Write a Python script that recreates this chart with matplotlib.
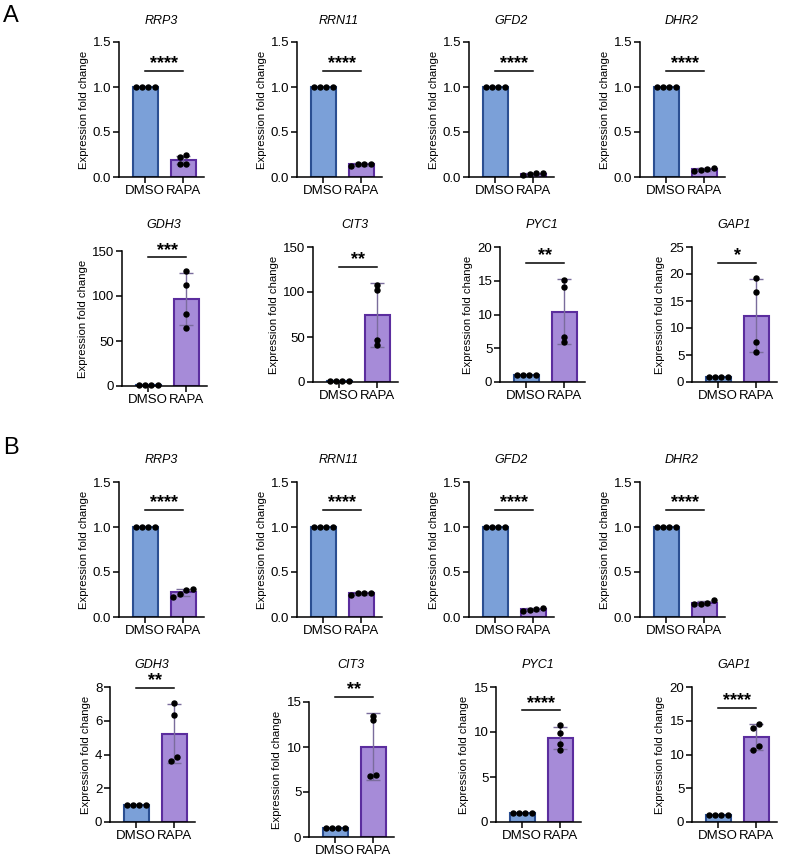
import numpy as np
import matplotlib
matplotlib.use("Agg")
import matplotlib.pyplot as plt

plt.rcParams['font.family'] = ['Liberation Sans', 'DejaVu Sans']

groups = ["DMSO", "RAPA"]

# panel A, top row (1.5 scale)
a_genes_top = ["RRP3", "RRN11", "GFD2", "DHR2"]
a_rapa_top = [
    [0.15, 0.22, 0.24, 0.15],
    [0.12, 0.15, 0.15, 0.15],
    [0.02, 0.05, 0.03, 0.04],
    [0.07, 0.10, 0.08, 0.09],
]
a_sig_top = ["****", "****", "****", "****"]

# panel A, bottom row
a_genes_bot = ["GDH3", "CIT3", "PYC1", "GAP1"]
a_rapa_bot = [
    [128, 112, 80, 65],
    [108, 102, 47, 41],
    [15.1, 14.1, 6.6, 5.9],
    [19.3, 16.7, 7.4, 5.6],
]
a_sig_bot = ["***", "**", "**", "*"]
a_ymax_bot = [150, 150, 20, 25]
a_yticks_bot = [[0, 50, 100, 150], [0, 50, 100, 150], [0, 5, 10, 15, 20], [0, 5, 10, 15, 20, 25]]

# panel B, top row
b_genes_top = ["RRP3", "RRN11", "GFD2", "DHR2"]
b_rapa_top = [
    [0.22, 0.30, 0.31, 0.26],
    [0.24, 0.27, 0.27, 0.27],
    [0.07, 0.10, 0.08, 0.09],
    [0.19, 0.14, 0.15, 0.16],
]
b_sig_top = ["****", "****", "****", "****"]

# panel B, bottom row
b_genes_bot = ["GDH3", "CIT3", "PYC1", "GAP1"]
b_rapa_bot = [
    [7.06, 6.36, 3.85, 3.6],
    [13.5, 12.97, 6.9, 6.8],
    [10.8, 9.9, 8.7, 8.0],
    [14.57, 13.98, 11.2, 10.6],
]
b_sig_bot = ["**", "**", "****", "****"]
b_ymax_bot = [8, 15, 15, 20]
b_yticks_bot = [[0, 2, 4, 6, 8], [0, 5, 10, 15], [0, 5, 10, 15], [0, 5, 10, 15, 20]]

dmso_vals = [1.0, 1.0, 1.0, 1.0]

W, H = 787, 856
fig = plt.figure(figsize=(W / 100, H / 100), dpi=100)

blue_fill, blue_edge = "#7ba0d8", "#2b4f92"
purp_fill, purp_edge = "#a68bd8", "#5b2d9e"


def spread(vals, px_per_unit, step=0.17, thresh=4.6):
    vals = np.asarray(vals, float)
    order = np.argsort(vals)
    xs = np.zeros(len(vals))
    grp = [order[0]]
    groups_ = []
    for i in order[1:]:
        if (vals[i] - vals[grp[-1]]) * px_per_unit < thresh:
            grp.append(i)
        else:
            groups_.append(grp)
            grp = [i]
    groups_.append(grp)
    for g in groups_:
        n = len(g)
        for k, idx in enumerate(g):
            xs[idx] = (k - (n - 1) / 2) * step
    return xs


def panel(x0, ytop, ybot, gene, rapa, sig, ymax, yticks, fmt, sig_y, title_y):
    ax = fig.add_axes([x0 / W, 1 - ybot / H, 85 / W, (ybot - ytop) / H])
    px_unit = (ybot - ytop) / ymax
    data = [dmso_vals, rapa]
    fills = [blue_fill, purp_fill]
    edges = [blue_edge, purp_edge]
    for i, vals in enumerate(data):
        m = np.mean(vals)
        sd = np.std(vals, ddof=1)
        ax.bar(i, m, width=0.66, color=fills[i], edgecolor=edges[i], linewidth=1.5, zorder=2)
        if sd > 0:
            ax.errorbar(i, m, yerr=sd, color="#7a6c9c", elinewidth=1.0, capsize=5,
                        capthick=1.0, zorder=3)
        xs = spread(vals, px_unit)
        ax.plot(i + xs, vals, "o", color="black", ms=3.6, zorder=4, clip_on=False)
    ax.set_xlim(-0.69, 1.55)
    ax.set_ylim(0, ymax)
    ax.set_yticks(yticks)
    ax.set_yticklabels([fmt.format(t) for t in yticks], fontsize=9.5)
    ax.set_xticks([0, 1])
    ax.set_xticklabels(groups, fontsize=9.5)
    for s in ["top", "right"]:
        ax.spines[s].set_visible(False)
    for s in ["left", "bottom"]:
        ax.spines[s].set_linewidth(1.1)
    ax.tick_params(width=1.1, length=4, pad=1.5)
    ax.set_ylabel("Expression fold change", fontsize=8.2, labelpad=3)
    ax.plot([0, 1], [sig_y, sig_y], color="black", lw=1.1, clip_on=False)
    ax.annotate(sig, (0.5, sig_y), xytext=(0, -1), textcoords="offset points",
                ha="center", va="bottom", fontsize=13, fontweight="bold",
                annotation_clip=False)
    fig.text((x0 + 42) / W, 1 - title_y / H, gene, ha="center", va="center",
             fontsize=9, style="italic")
    return ax


top_x = [119, 297, 469, 640]

for k in range(4):
    panel(top_x[k], 42, 177, a_genes_top[k], a_rapa_top[k], a_sig_top[k], 1.5,
          [0, 0.5, 1.0, 1.5], "{:.1f}", 1.18, 21)

a_bot_x = [122, 313, 500, 692]
a_bot_top = [251, 247, 247, 247]
a_sig_y = [143, 128, 17.6, 22]
for k in range(4):
    panel(a_bot_x[k], a_bot_top[k], a_bot_top[k] + 135, a_genes_bot[k], a_rapa_bot[k],
          a_sig_bot[k], a_ymax_bot[k], a_yticks_bot[k], "{:g}", a_sig_y[k], 225)

for k in range(4):
    panel(top_x[k], 482, 617, b_genes_top[k], b_rapa_top[k], b_sig_top[k], 1.5,
          [0, 0.5, 1.0, 1.5], "{:.1f}", 1.19, 460)

b_bot_x = [110, 309, 496, 692]
b_bot_top = [687, 702, 687, 687]
b_sig_y = [7.93, 15.6, 12.4, 16.9]
for k in range(4):
    panel(b_bot_x[k], b_bot_top[k], b_bot_top[k] + 135, b_genes_bot[k], b_rapa_bot[k],
          b_sig_bot[k], b_ymax_bot[k], b_yticks_bot[k], "{:g}", b_sig_y[k], 665)

fig.text(3 / W, 1 - 16 / H, "A", fontsize=17, va="center", ha="left")
fig.text(3 / W, 1 - 448 / H, "B", fontsize=17, va="center", ha="left")

fig.savefig("out.png", dpi=100)
